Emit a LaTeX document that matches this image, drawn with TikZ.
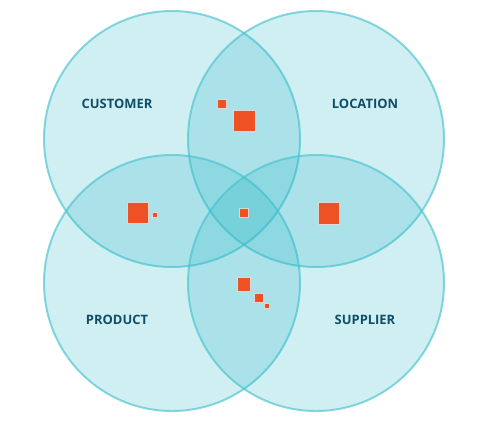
\documentclass[tikz,border=0pt]{standalone}
\usepackage{fontspec}
\setmainfont{Open Sans}
\usetikzlibrary{calc}

\definecolor{ringfill}{RGB}{40,182,198}
\definecolor{ringline}{RGB}{72,194,208}
\definecolor{labeltext}{RGB}{14,78,104}
\definecolor{boxfill}{RGB}{238,82,36}
\definecolor{boxline}{RGB}{226,214,208}

\tikzset{
	ring/.style={fill=ringfill, fill opacity=0.22, draw=ringline, draw opacity=0.65, line width=1.4pt},
	lbl/.style={text=labeltext, font=\fontsize{9.2}{10}\selectfont\bfseries},
	box/.style={fill=boxfill, draw=boxline, line width=0.5pt}
}

\begin{document}
\begin{tikzpicture}[x=0.025cm,y=-0.025cm]
		\useasboundingbox (0,0) rectangle (488,423);
		
		%circles
		\draw[ring] (172,139) circle (128);
		\draw[ring] (316,139) circle (128);
		\draw[ring] (172,283) circle (128);
		\draw[ring] (316,283) circle (128);
		
		%labels
		\node[lbl] (customer) at (117,104) {CUSTOMER};
		\node[lbl] (location) at (365,104) {LOCATION};
		\node[lbl] (product) at (117,320) {PRODUCT};
		\node[lbl] (supplier) at (365,320) {SUPPLIER};
		
		%customer & location
		\draw[box] (217.5,99.5) rectangle (226,108);
		\draw[box] (233.5,110) rectangle (255,131.5);
		
		%customer & product
		\draw[box] (127,202) rectangle (148.5,223.5);
		\draw[box] (152.5,212.5) rectangle (157,217);
		
		%all four
		\draw[box] (239.5,208.5) rectangle (248.5,217.5);
		
		%location & supplier
		\draw[box] (318,202) rectangle (339.5,224);
		
		%product & supplier
		\draw[box] (237.5,277.5) rectangle (250.5,291);
		\draw[box] (254,293.5) rectangle (263,302.5);
		\draw[box] (264.5,303.5) rectangle (269.5,308.5);
\end{tikzpicture}
\end{document}
